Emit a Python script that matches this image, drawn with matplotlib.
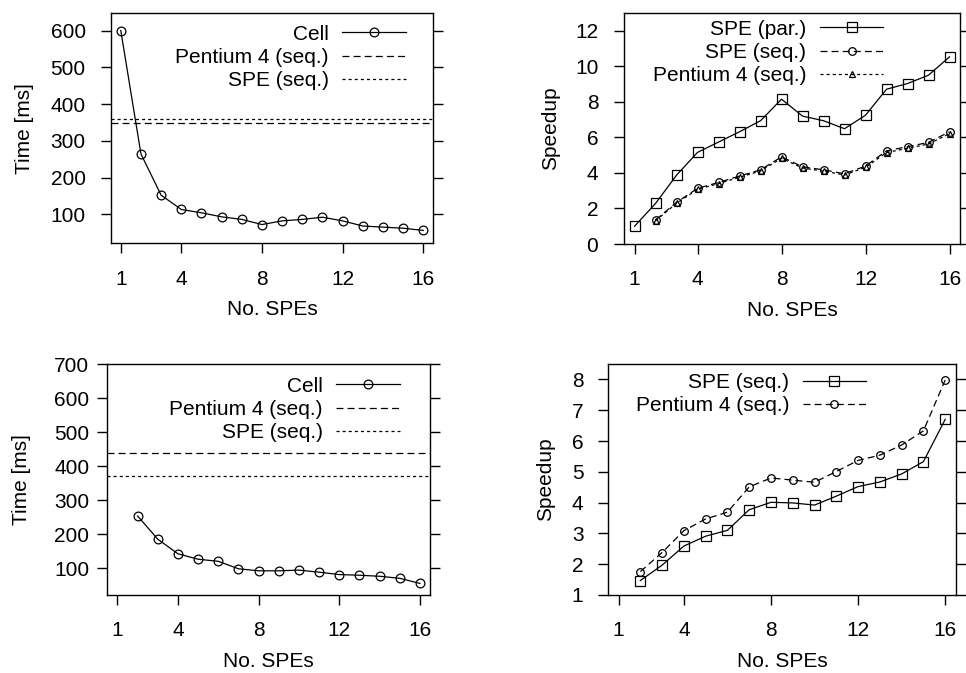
import matplotlib.pyplot as plt

plt.rcParams['font.family'] = ['Liberation Sans', 'DejaVu Sans']
plt.rcParams['font.size'] = 15
plt.rcParams['lines.scale_dashes'] = False

spes = list(range(1, 17))
spes2 = list(range(2, 17))
xticks = [1, 4, 8, 12, 16]

# top left: running time, first run
cell_a = [600, 264, 152, 113, 104, 93, 86, 72, 82, 86, 92, 82, 68, 65, 62, 56]
p4_seq_a = 349
spe_seq_a = 359

# top right: speedup, first run
spe_par_b = [1.0, 2.28, 3.87, 5.15, 5.73, 6.31, 6.93, 8.14, 7.19, 6.93, 6.48, 7.24, 8.70, 9.02, 9.49, 10.52]
spe_seq_b = [1.35, 2.34, 3.13, 3.46, 3.82, 4.17, 4.90, 4.34, 4.17, 3.95, 4.38, 5.24, 5.47, 5.71, 6.31]
p4_seq_b = [1.31, 2.29, 3.07, 3.40, 3.75, 4.11, 4.82, 4.27, 4.10, 3.88, 4.31, 5.14, 5.38, 5.62, 6.20]

# bottom left: running time, second run
cell_c = [254, 186, 143, 127, 121, 99, 93, 93, 95, 89, 82, 80, 77, 71, 56]
p4_seq_c = 440
spe_seq_c = 371

# bottom right: speedup, second run
spe_seq_d = [1.47, 1.97, 2.59, 2.91, 3.10, 3.77, 4.01, 3.99, 3.92, 4.21, 4.52, 4.67, 4.93, 5.33, 6.70]
p4_seq_d = [1.76, 2.38, 3.09, 3.47, 3.69, 4.51, 4.80, 4.73, 4.66, 5.01, 5.37, 5.54, 5.87, 6.33, 7.98]

DASH = (0, (5, 3))
DOT = (0, (2.2, 2.2))
LW = 0.9

fig = plt.figure(figsize=(9.66, 6.73), dpi=100)
ax1 = fig.add_axes([0.1146, 0.6385, 0.334, 0.3418])
ax2 = fig.add_axes([0.646, 0.6374, 0.3478, 0.3437])
ax3 = fig.add_axes([0.1111, 0.1159, 0.334, 0.3432])
ax4 = fig.add_axes([0.6291, 0.1159, 0.3606, 0.3432])


def style(ax, ylim, yticks, ylabel, ypad, ylab_x, leg_xy):
    ax.set_xlim(0.5, 16.5)
    ax.set_ylim(*ylim)
    ax.set_xticks(xticks)
    ax.set_yticks(yticks)
    for s in ax.spines.values():
        s.set_linewidth(1.0)
    ax.tick_params(axis='x', direction='out', length=7, width=1, pad=12)
    ax.tick_params(axis='y', direction='out', length=7, width=1, pad=ypad,
                   right=True, labelright=False)
    ax.set_xlabel('No. SPEs')
    ax.set_ylabel(ylabel)
    ax.xaxis.set_label_coords(0.5, -0.245)
    ax.yaxis.set_label_coords(ylab_x, 0.5)
    ax.legend(loc='upper right', bbox_to_anchor=leg_xy, frameon=False,
              markerfirst=False, handlelength=3.05, borderpad=0,
              borderaxespad=0, labelspacing=0.2, handletextpad=0.65)


mk = dict(markerfacecolor='none', markeredgecolor='k', markeredgewidth=0.9)

# top left
ax1.plot(spes, cell_a, '-', color='k', lw=LW, marker='o', markersize=6.3, label='Cell', **mk)
ax1.axhline(p4_seq_a, color='k', lw=LW, ls=DASH, label='Pentium 4 (seq.)')
ax1.axhline(spe_seq_a, color='k', lw=LW, ls=DOT, label='SPE (seq.)')
style(ax1, (21, 647), [100, 200, 300, 400, 500, 600], 'Time [ms]', 11, -0.239, (0.915, 0.95))

# top right
ax2.plot(spes, spe_par_b, '-', color='k', lw=LW, marker='s', markersize=6.5, label='SPE (par.)', **mk)
ax2.plot(spes2, spe_seq_b, color='k', lw=LW, ls=DASH, marker='o', markersize=5.5, label='SPE (seq.)', **mk)
ax2.plot(spes2, p4_seq_b, color='k', lw=LW, ls=DOT, marker='^', markersize=5, label='Pentium 4 (seq.)', **mk)
style(ax2, (0, 13), [0, 2, 4, 6, 8, 10, 12], 'Speedup', 11.5, -0.189, (0.772, 0.97))

# bottom left
ax3.plot(spes2, cell_c, '-', color='k', lw=LW, marker='o', markersize=6.3, label='Cell', **mk)
ax3.axhline(p4_seq_c, color='k', lw=LW, ls=DASH, label='Pentium 4 (seq.)')
ax3.axhline(spe_seq_c, color='k', lw=LW, ls=DOT, label='SPE (seq.)')
style(ax3, (22, 700), [100, 200, 300, 400, 500, 600, 700], 'Time [ms]', 6, -0.238, (0.906, 0.945))

# bottom right
ax4.plot(spes2, spe_seq_d, '-', color='k', lw=LW, marker='s', markersize=6.5, label='SPE (seq.)', **mk)
ax4.plot(spes2, p4_seq_d, color='k', lw=LW, ls=DASH, marker='o', markersize=5.5, label='Pentium 4 (seq.)', **mk)
style(ax4, (1, 8.5), [1, 2, 3, 4, 5, 6, 7, 8], 'Speedup', 10.5, -0.150, (0.742, 0.96))

fig.savefig('out.png', dpi=100)
